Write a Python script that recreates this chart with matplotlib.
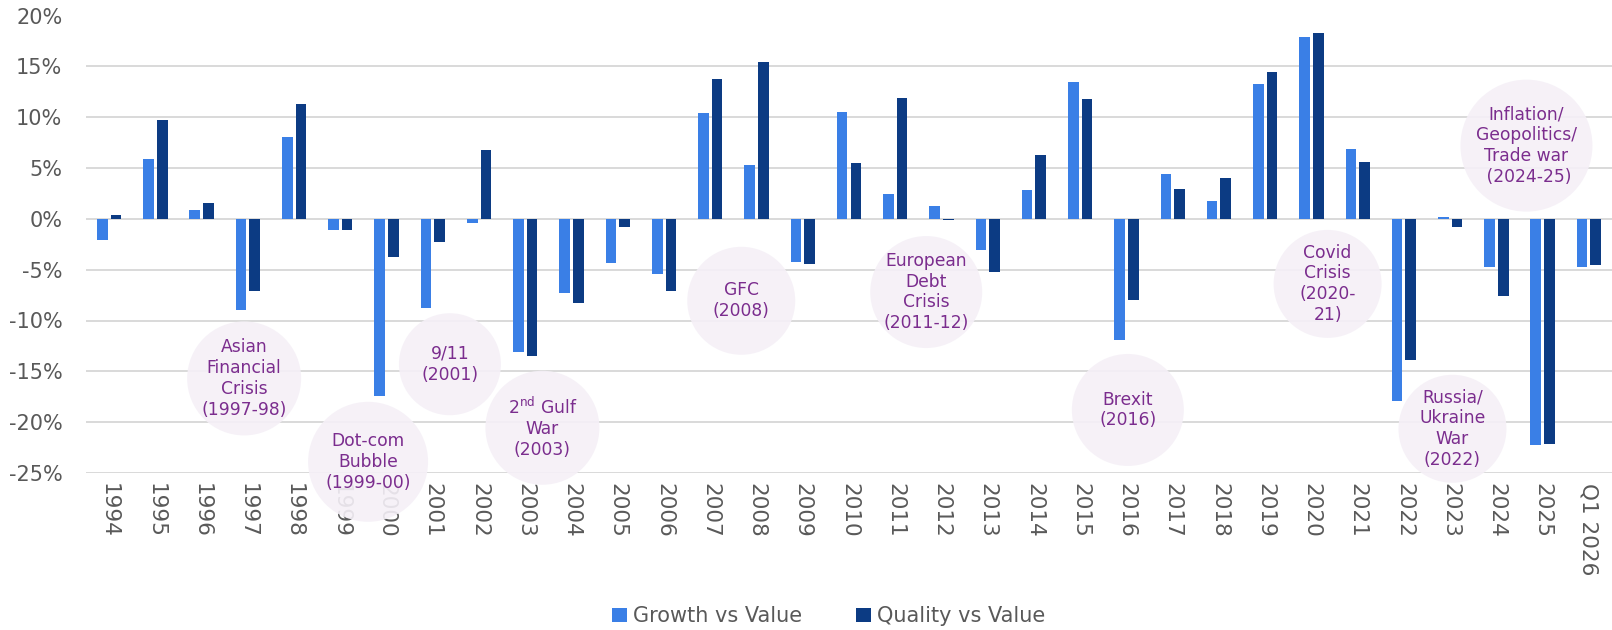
import numpy as np
import matplotlib
matplotlib.use("Agg")
import matplotlib.pyplot as plt
from matplotlib.patches import Ellipse

# data (annual relative return, %)
years = [str(y) for y in range(1994, 2026)] + ["Q1 2026"]
growth_vs_value = [-2.1, 5.9, 0.9, -9.0, 8.0, -1.05, -17.4, -8.75, -0.4, -13.1, -7.3,
                   -4.3, -5.4, 10.4, 5.3, -4.2, 10.5, 2.4, 1.3, -3.1, 2.8, 13.5,
                   -11.9, 4.4, 1.8, 13.3, 17.9, 6.9, -17.9, 0.15, -4.7, -22.2, -4.7]
quality_vs_value = [0.4, 9.7, 1.6, -7.1, 11.3, -1.05, -3.8, -2.3, 6.75, -13.5, -8.3,
                    -0.8, -7.1, 13.8, 15.4, -4.4, 5.5, 11.9, -0.1, -5.2, 6.3, 11.8,
                    -8.0, 2.9, 4.0, 14.4, 18.3, 5.6, -13.9, -0.8, -7.6, -22.1, -4.5]

# event bubbles: label, (x in category units, y in %), radius in px
events = [
    ("Asian\nFinancial\nCrisis\n(1997-98)", 2.92, -15.7, 57),
    ("Dot-com\nBubble\n(1999-00)", 5.6, -23.9, 60),
    ("9/11\n(2001)", 7.37, -14.3, 51),
    ("2$^{\\rm nd}$ Gulf\nWar\n(2003)", 9.37, -20.55, 57),
    ("GFC\n(2008)", 13.67, -8.06, 54),
    ("European\nDebt\nCrisis\n(2011-12)", 17.67, -7.2, 56),
    ("Brexit\n(2016)", 22.03, -18.8, 56),
    ("Covid\nCrisis\n(2020-\n21)", 26.35, -6.4, 54),
    ("Russia/\nUkraine\nWar\n(2022)", 29.05, -20.65, 54),
    ("Inflation/\nGeopolitics/\nTrade war\n (2024-25)", 30.65, 7.2, 66),
]

plt.rcParams['font.family'] = ['DejaVu Sans']
plt.rcParams['mathtext.fontset'] = 'custom'
plt.rcParams['mathtext.rm'] = 'DejaVu Sans'

c_growth = "#3A7FE6"
c_quality = "#0C3B83"
grey = "#595959"

fig = plt.figure(figsize=(16.12, 6.30), dpi=100)
ax = fig.add_axes([86 / 1612, 1 - 473 / 630, 1 - 86 / 1612, (473 - 15.5) / 630])

x = np.arange(len(years))
w = 0.23
off = 0.148
ax.bar(x - off, growth_vs_value, w, color=c_growth, label="Growth vs Value", zorder=3)
ax.bar(x + off, quality_vs_value, w, color=c_quality, label="Quality vs Value", zorder=3)

ax.set_xlim(-0.5, len(years) - 0.5)
ax.set_ylim(-25, 20)
ax.set_yticks(np.arange(-25, 21, 5))
ax.set_yticklabels([f"{v}%" for v in range(-25, 21, 5)])
ax.set_xticks(x)
ax.set_xticklabels(years, rotation=270)
ax.tick_params(axis="y", length=0, pad=17, labelsize=15, labelcolor=grey)
ax.tick_params(axis="x", length=0, pad=7, labelsize=15.5, labelcolor=grey)
ax.grid(axis="y", color="#D9D9D9", linewidth=1.4, zorder=0)
for s in ax.spines.values():
    s.set_visible(False)

# bubble sizes in data units so they come out round
px_x = ax.transData.transform((1, 0))[0] - ax.transData.transform((0, 0))[0]
px_y = ax.transData.transform((0, 1))[1] - ax.transData.transform((0, 0))[1]
for label, ex, ey, r in events:
    e = Ellipse((ex, ey), 2 * r / px_x, 2 * r / px_y, facecolor="#F5F0F7",
                edgecolor="none", alpha=0.9, zorder=5, clip_on=False)
    ax.add_patch(e)
    ax.text(ex, ey, label, ha="center", va="center", fontsize=12.3, color="#7B2D8E",
            linespacing=1.2, zorder=6, clip_on=False)

ax.legend(loc="center", bbox_to_anchor=(0.514, 0.022), bbox_transform=fig.transFigure,
          ncol=2, frameon=False, fontsize=15, labelcolor=grey, handlelength=0.7,
          handleheight=0.7, handletextpad=0.3, columnspacing=2.6)

fig.savefig("out.png", dpi=100)
